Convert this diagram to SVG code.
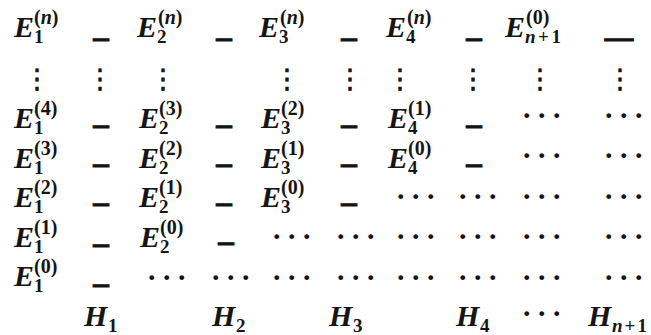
<svg xmlns="http://www.w3.org/2000/svg" width="651" height="335" viewBox="0 0 651 335">
<style>
.m{font-family:"Liberation Serif","Times New Roman",serif;fill:#151515;font-weight:bold}
.E{font-size:30px;font-style:italic}
.s{font-size:20px;font-style:normal}
.i{font-style:italic}
.sub{font-size:19px;font-style:normal}
.np{letter-spacing:2.5px}
.np2{letter-spacing:2px}
.d{font-family:"DejaVu Sans",sans-serif;font-weight:bold;font-size:18px;fill:#151515;stroke:#151515;stroke-width:0.8}
.h{font-family:"Liberation Serif",serif;font-weight:bold;font-size:30px;letter-spacing:5px;fill:#151515}
.v{font-family:"DejaVu Sans",sans-serif;font-weight:normal;font-size:27px;fill:#151515;stroke:#151515;stroke-width:0.6;text-anchor:middle}
</style>
<rect width="651" height="335" fill="#fff"/>

<!-- Row 1 -->
<g id="r1">
 <g id="E1n"><text class="m E" x="14" y="37">E<tspan class="s" x="34" y="24">(<tspan class="i">n</tspan>)</tspan><tspan class="sub" x="34" y="43">1</tspan></text></g>
 <g id="E2n"><text class="m E" x="137" y="37">E<tspan class="s" x="158" y="24">(<tspan class="i">n</tspan>)</tspan><tspan class="sub" x="157" y="43">2</tspan></text></g>
 <g id="E3n"><text class="m E" x="259" y="37">E<tspan class="s" x="280" y="24">(<tspan class="i">n</tspan>)</tspan><tspan class="sub" x="279" y="43">3</tspan></text></g>
 <g id="E4n"><text class="m E" x="386" y="37">E<tspan class="s" x="407" y="24">(<tspan class="i">n</tspan>)</tspan><tspan class="sub" x="406" y="43">4</tspan></text></g>
 <g id="En1"><text class="m E" x="505" y="37">E<tspan class="s" x="526" y="24">(0)</tspan><tspan class="sub np" x="525" y="43"><tspan class="i">n</tspan>+1</tspan></text></g>
 <text class="d" x="92" y="44.5" textLength="18" lengthAdjust="spacingAndGlyphs">—</text>
 <text class="d" x="215" y="44.5" textLength="18" lengthAdjust="spacingAndGlyphs">—</text>
 <text class="d" x="340" y="44.5" textLength="18" lengthAdjust="spacingAndGlyphs">—</text>
 <text class="d" x="465" y="44.5" textLength="18" lengthAdjust="spacingAndGlyphs">—</text>
 <text class="d" x="603" y="44.5" textLength="32" lengthAdjust="spacingAndGlyphs">—</text>
</g>

<!-- Row 2: vertical dots -->
<g id="r2">
 <text class="v" x="37" y="88">⋮</text>
 <text class="v" x="100" y="88">⋮</text>
 <text class="v" x="163" y="88">⋮</text>
 <text class="v" x="287" y="88">⋮</text>
 <text class="v" x="350" y="88">⋮</text>
 <text class="v" x="400" y="88">⋮</text>
 <text class="v" x="473" y="88">⋮</text>
 <text class="v" x="540" y="88">⋮</text>
 <text class="v" x="620" y="88">⋮</text>
</g>

<!-- Row 3 -->
<g id="r3">
 <g id="E14"><text class="m E" x="14" y="128">E<tspan class="s" x="34" y="115">(4)</tspan><tspan class="sub" x="34" y="134">1</tspan></text></g>
 <g id="E23"><text class="m E" x="139" y="128">E<tspan class="s" x="159" y="115">(3)</tspan><tspan class="sub" x="159" y="134">2</tspan></text></g>
 <g id="E32"><text class="m E" x="261" y="128">E<tspan class="s" x="281" y="115">(2)</tspan><tspan class="sub" x="281" y="134">3</tspan></text></g>
 <g id="E41"><text class="m E" x="388" y="128">E<tspan class="s" x="408" y="115">(1)</tspan><tspan class="sub" x="408" y="134">4</tspan></text></g>
 <text class="d" x="92" y="131.5" textLength="18" lengthAdjust="spacingAndGlyphs">—</text>
 <text class="d" x="215" y="131.5" textLength="18" lengthAdjust="spacingAndGlyphs">—</text>
 <text class="d" x="340" y="131.5" textLength="18" lengthAdjust="spacingAndGlyphs">—</text>
 <text class="d" x="465" y="131.5" textLength="18" lengthAdjust="spacingAndGlyphs">—</text>
 <text class="h" x="521.8" y="124.5">···</text>
 <text class="h" x="603.8" y="124.5">···</text>
</g>

<!-- Row 4 -->
<g id="r4">
 <g id="E13"><text class="m E" x="14" y="168">E<tspan class="s" x="34" y="155">(3)</tspan><tspan class="sub" x="34" y="174">1</tspan></text></g>
 <g id="E22"><text class="m E" x="139" y="168">E<tspan class="s" x="159" y="155">(2)</tspan><tspan class="sub" x="159" y="174">2</tspan></text></g>
 <g id="E31"><text class="m E" x="261" y="168">E<tspan class="s" x="281" y="155">(1)</tspan><tspan class="sub" x="281" y="174">3</tspan></text></g>
 <g id="E40"><text class="m E" x="388" y="168">E<tspan class="s" x="408" y="155">(0)</tspan><tspan class="sub" x="408" y="174">4</tspan></text></g>
 <text class="d" x="92" y="170.5" textLength="18" lengthAdjust="spacingAndGlyphs">—</text>
 <text class="d" x="215" y="170.5" textLength="18" lengthAdjust="spacingAndGlyphs">—</text>
 <text class="d" x="340" y="170.5" textLength="18" lengthAdjust="spacingAndGlyphs">—</text>
 <text class="d" x="465" y="170.5" textLength="18" lengthAdjust="spacingAndGlyphs">—</text>
 <text class="h" x="521.8" y="164.5">···</text>
 <text class="h" x="603.8" y="164.5">···</text>
</g>

<!-- Row 5 -->
<g id="r5">
 <g id="E12"><text class="m E" x="14" y="207">E<tspan class="s" x="34" y="194">(2)</tspan><tspan class="sub" x="34" y="213">1</tspan></text></g>
 <g id="E21"><text class="m E" x="139" y="207">E<tspan class="s" x="159" y="194">(1)</tspan><tspan class="sub" x="159" y="213">2</tspan></text></g>
 <g id="E30"><text class="m E" x="261" y="207">E<tspan class="s" x="281" y="194">(0)</tspan><tspan class="sub" x="281" y="213">3</tspan></text></g>
 <text class="d" x="92" y="209.5" textLength="18" lengthAdjust="spacingAndGlyphs">—</text>
 <text class="d" x="215" y="209.5" textLength="18" lengthAdjust="spacingAndGlyphs">—</text>
 <text class="d" x="340" y="209.5" textLength="18" lengthAdjust="spacingAndGlyphs">—</text>
 <text class="h" x="395.8" y="205.5">···</text>
 <text class="h" x="457.8" y="205.5">···</text>
 <text class="h" x="521.8" y="205.5">···</text>
 <text class="h" x="603.8" y="205.5">···</text>
</g>

<!-- Row 6 -->
<g id="r6">
 <g id="E11"><text class="m E" x="14" y="247">E<tspan class="s" x="34" y="234">(1)</tspan><tspan class="sub" x="34" y="253">1</tspan></text></g>
 <g id="E20"><text class="m E" x="140" y="247">E<tspan class="s" x="160" y="234">(0)</tspan><tspan class="sub" x="160" y="253">2</tspan></text></g>
 <text class="d" x="92" y="250.5" textLength="18" lengthAdjust="spacingAndGlyphs">—</text>
 <text class="d" x="217" y="248.5" textLength="18" lengthAdjust="spacingAndGlyphs">—</text>
 <text class="h" x="271.8" y="245.5">···</text>
 <text class="h" x="335.8" y="245.5">···</text>
 <text class="h" x="395.8" y="245.5">···</text>
 <text class="h" x="457.8" y="245.5">···</text>
 <text class="h" x="521.8" y="245.5">···</text>
 <text class="h" x="603.8" y="245.5">···</text>
</g>

<!-- Row 7 -->
<g id="r7">
 <g id="E10"><text class="m E" x="14" y="286">E<tspan class="s" x="34" y="273">(0)</tspan><tspan class="sub" x="34" y="292">1</tspan></text></g>
 <text class="d" x="92" y="290.5" textLength="18" lengthAdjust="spacingAndGlyphs">—</text>
 <text class="h" x="146.8" y="286.5">···</text>
 <text class="h" x="210.8" y="286.5">···</text>
 <text class="h" x="271.8" y="286.5">···</text>
 <text class="h" x="335.8" y="286.5">···</text>
 <text class="h" x="395.8" y="286.5">···</text>
 <text class="h" x="457.8" y="286.5">···</text>
 <text class="h" x="521.8" y="286.5">···</text>
 <text class="h" x="603.8" y="286.5">···</text>
</g>

<!-- Row 8: H labels -->
<g id="r8">
 <g id="H1"><text class="m E" x="84" y="326">H<tspan class="sub" x="108" y="332">1</tspan></text></g>
 <g id="H2"><text class="m E" x="212" y="326">H<tspan class="sub" x="236" y="332">2</tspan></text></g>
 <g id="H3"><text class="m E" x="329" y="326">H<tspan class="sub" x="353" y="332">3</tspan></text></g>
 <g id="H4"><text class="m E" x="456" y="326">H<tspan class="sub" x="480" y="332">4</tspan></text></g>
 <text class="h" x="521.8" y="322.5">···</text>
 <g id="Hn1"><text class="m E" x="588" y="326">H<tspan class="sub np2" x="612" y="332"><tspan class="i">n</tspan>+1</tspan></text></g>
</g>
</svg>
